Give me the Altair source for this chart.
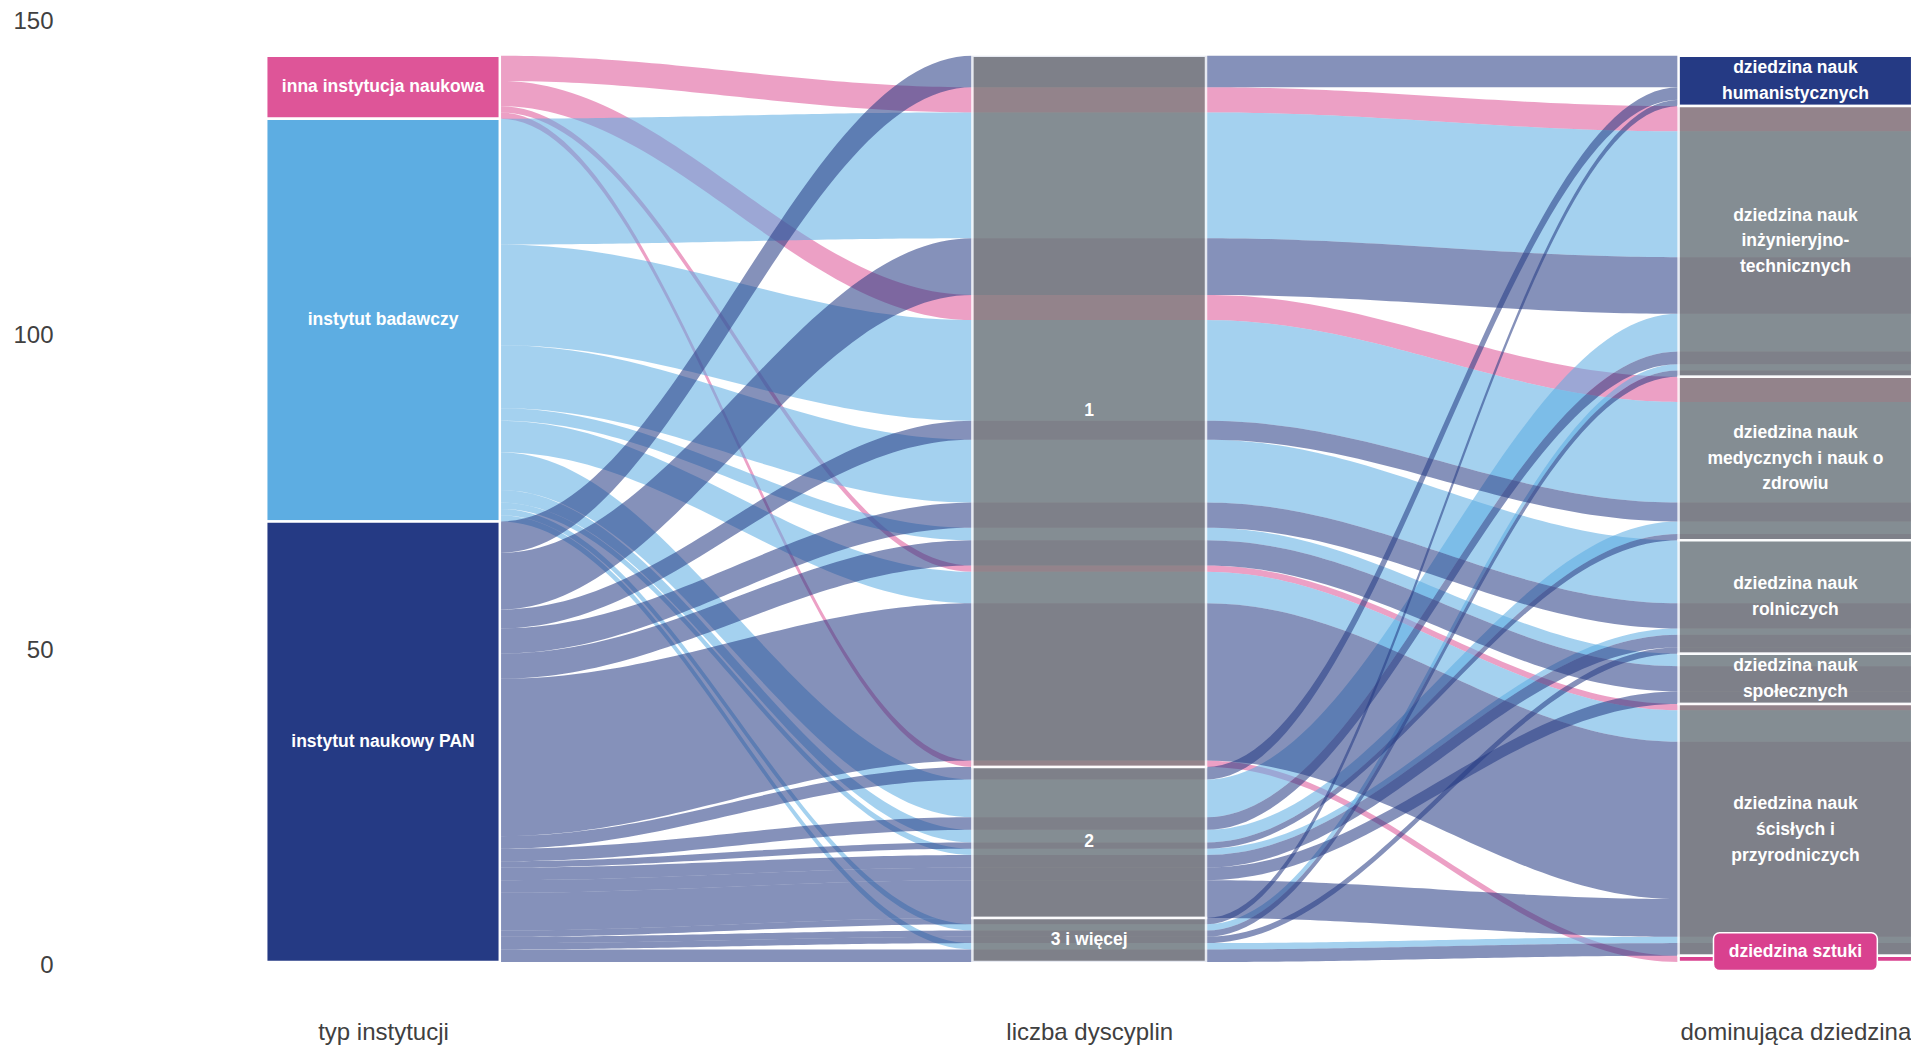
import altair as alt
import numpy as np
import pandas as pd

# ---------------- data ----------------
inst_names = ["inna instytucja naukowa", "instytut badawczy", "instytut naukowy PAN"]
inst_colors = ["#DE5598", "#5DADE2", "#253A84"]
disc_names = ["1", "2", "3 i więcej"]
dom_names = ["hum", "inz", "med", "rol", "spo", "sci", "szt"]
dom_labels = [
    "dziedzina nauk\nhumanistycznych",
    "dziedzina nauk\ninżynieryjno-\ntechnicznych",
    "dziedzina nauk\nmedycznych i nauk o\nzdrowiu",
    "dziedzina nauk\nrolniczych",
    "dziedzina nauk\nspołecznych",
    "dziedzina nauk\nścisłych i\nprzyrodniczych",
    "dziedzina sztuki",
]
axis_titles = ["typ instytucji", "liczba dyscyplin", "dominująca dziedzina"]
y_ticks = [0, 50, 100, 150]

# alluvia: institution type -> number of disciplines -> dominant field, count
flow_inst = (["inna instytucja naukowa"] * 4
             + ["instytut badawczy"] * 10
             + ["instytut naukowy PAN"] * 16)
flow_disc = (["1", "1", "1", "1"]
             + ["1", "1", "1", "1", "1", "2", "2", "2", "3 i więcej", "3 i więcej"]
             + ["1", "1", "1", "1", "1", "1", "2", "2", "2", "2", "2", "2",
                "3 i więcej", "3 i więcej", "3 i więcej", "3 i więcej"])
flow_dom = (["inz", "med", "sci", "szt"]
            + ["inz", "med", "rol", "spo", "sci", "inz", "med", "rol", "inz", "sci"]
            + ["hum", "inz", "med", "rol", "spo", "sci", "hum", "inz", "med", "rol", "spo", "sci",
               "hum", "inz", "rol", "sci"])
flow_n = ([4, 4, 1, 1]
          + [20, 16, 10, 2, 5, 6, 2, 1, 1, 1]
          + [5, 9, 3, 4, 4, 25, 2, 2, 1, 2, 2, 6, 1, 1, 1, 2])

# ---------------- layout ----------------
W, H = 1841, 944
PAD = {"left": 62, "top": 10, "right": 0, "bottom": 83}
PX_PER_X = 706.2
X0 = 1 - (383 - 70) / PX_PER_X
X1 = X0 + W / PX_PER_X
HW = 116.8 / PX_PER_X
NSEG = 60
FONT = "Liberation Sans"
LINE_H = 25.7
UNIT_PX = H / 150.0

df = pd.DataFrame({"inst": flow_inst, "disc": flow_disc, "dom": flow_dom, "n": flow_n})
df["ki"] = df["inst"].map({v: i for i, v in enumerate(inst_names)})
df["kd"] = df["disc"].map({v: i for i, v in enumerate(disc_names)})
df["km"] = df["dom"].map({v: i for i, v in enumerate(dom_names)})
total = float(df["n"].sum())


def lode_tops(keys):
    tops = pd.Series(0.0, index=df.index)
    cur = total
    for idx in df.sort_values(keys, kind="stable").index:
        tops[idx] = cur
        cur -= df.at[idx, "n"]
    return tops


df["t0"] = lode_tops(["ki", "kd", "km"])
df["t1"] = lode_tops(["kd", "km", "ki"])
df["t2"] = lode_tops(["km", "kd", "ki"])

rows = []
u = np.linspace(0, 1, NSEG)
s = (1 - np.cos(np.pi * u)) / 2
for idx, r in df.iterrows():
    tops = [r.t0, r.t1, r.t2]
    pts = [(1 - HW, tops[0])]
    for a in range(2):
        xa, xb = a + 1 + HW, a + 2 - HW
        for uu, ss in zip(u, s):
            pts.append((xa + (xb - xa) * uu, tops[a] + (tops[a + 1] - tops[a]) * ss))
    pts.append((3 + HW, tops[2]))
    for k, (x, t) in enumerate(pts):
        rows.append({"id": f"a{idx:02d}", "inst": r.inst, "x": x, "top": t, "bot": t - r.n, "k": k})
flows_df = pd.DataFrame(rows)

strata = []
specs = [("inst", inst_names, inst_names), ("disc", disc_names, disc_names), ("dom", dom_names, dom_labels)]
for ax, (col, names, labels) in enumerate(specs):
    for j, name in enumerate(names):
        sub = df[df[col] == name]
        top = sub[f"t{ax}"].max()
        bot = top - sub["n"].sum()
        if ax == 0:
            fill, op = inst_colors[j], 1.0
        elif ax == 2 and name == "hum":
            fill, op = "#253A84", 1.0
        elif ax == 2 and name == "szt":
            fill, op = "#D9418F", 1.0
        else:
            fill, op = "#7D7D7D", 0.8
        nlines = labels[j].count("\n") + 1
        strata.append({"xa": ax + 1 - HW, "xb": ax + 1 + HW, "ya": bot, "yb": top,
                       "xc": ax + 1, "yc": (top + bot) / 2,
                       "ylab": (top + bot) / 2 + (nlines - 1) / 2 * LINE_H / UNIT_PX,
                       "fill": fill, "op": op,
                       "label": labels[j], "special": (ax == 2 and name == "szt")})
strata_df = pd.DataFrame(strata)
lab_df = strata_df[~strata_df["special"]]
szt = strata_df[strata_df["special"]].copy()
szt["bxa"] = szt["xc"] - 0.116
szt["bxb"] = szt["xc"] + 0.116
szt["ty"] = szt["yc"] + 1.15
szt["bya"] = szt["ty"] - 3.0
szt["byb"] = szt["ty"] + 3.0

# ---------------- chart ----------------
xs = alt.Scale(domain=[X0, X1], nice=False, zero=False)
ys = alt.Scale(domain=[0, 150], nice=False, zero=False)
label_expr = "[" + ",".join("'" + t + "'" for t in axis_titles) + "][datum.value - 1]"
x_axis = alt.Axis(values=[1, 2, 3], labelExpr=label_expr, title=None, domain=False, ticks=False,
                  grid=False, labelFontSize=24, labelColor="#404040", labelFont=FONT,
                  labelPadding=58, labelFlush=False, labelOverlap=False, labelBaseline="top",
                  labelLimit=0)
y_axis = alt.Axis(values=y_ticks, title=None, domain=False, ticks=False, grid=False,
                  labelFontSize=24, labelColor="#404040", labelFont=FONT, labelPadding=17,
                  labelOffset=3)

flows = alt.Chart(flows_df).mark_area(opacity=0.56, interpolate="linear").encode(
    x=alt.X("x:Q", scale=xs, axis=x_axis),
    y=alt.Y("top:Q", scale=ys, axis=y_axis),
    y2="bot:Q",
    color=alt.Color("inst:N", scale=alt.Scale(domain=inst_names, range=inst_colors), legend=None),
    detail="id:N",
)

boxes = alt.Chart(strata_df).mark_rect(stroke="white", strokeWidth=2.5).encode(
    x=alt.X("xa:Q", scale=xs, axis=x_axis), x2="xb:Q",
    y=alt.Y("ya:Q", scale=ys, axis=y_axis), y2="yb:Q",
    fill=alt.Fill("fill:N", scale=None),
    opacity=alt.Opacity("op:Q", scale=None),
)

labels = alt.Chart(lab_df).mark_text(color="white", font=FONT, fontWeight="bold", fontSize=17.5,
                                     lineBreak="\n", lineHeight=LINE_H, align="center",
                                     baseline="middle").encode(
    x=alt.X("xc:Q", scale=xs, axis=x_axis),
    y=alt.Y("ylab:Q", scale=ys, axis=y_axis),
    text="label:N",
)

szt_box = alt.Chart(szt).mark_rect(fill="#D9418F", stroke="white", strokeWidth=1.5,
                                   cornerRadius=6).encode(
    x=alt.X("bxa:Q", scale=xs, axis=x_axis), x2="bxb:Q",
    y=alt.Y("bya:Q", scale=ys, axis=y_axis), y2="byb:Q",
)
szt_text = alt.Chart(szt).mark_text(color="white", font=FONT, fontWeight="bold", fontSize=17.5,
                                    align="center", baseline="middle").encode(
    x=alt.X("xc:Q", scale=xs, axis=x_axis),
    y=alt.Y("ty:Q", scale=ys, axis=y_axis),
    text="label:N",
)

chart = alt.layer(flows, boxes, labels, szt_box, szt_text).properties(
    width=W, height=H, padding=PAD,
    autosize=alt.AutoSizeParams(type="none"),
    background="white",
).configure_view(stroke=None)

chart.save("out.html", embed_options={"renderer": "svg", "actions": False})
